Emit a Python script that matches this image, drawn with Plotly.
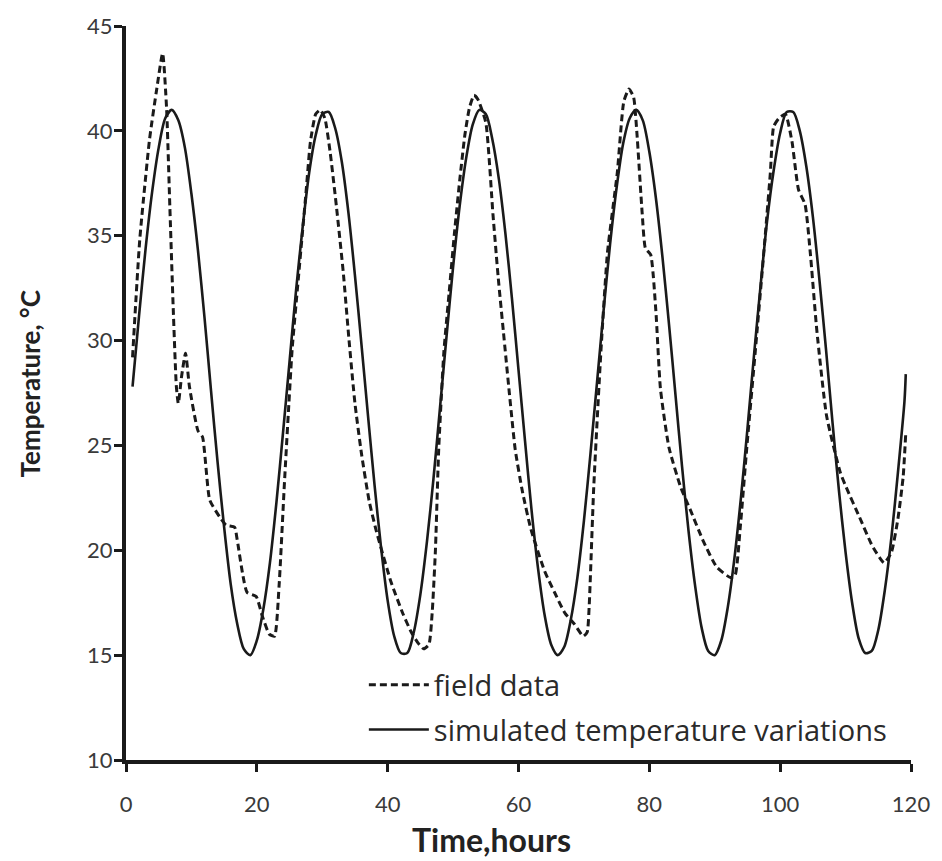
import plotly.graph_objects as go

# Simulated temperature (hourly)
sim_hours = [1, 2, 3, 4, 5, 6, 7, 8, 9, 10, 11, 12, 13, 14, 15, 16, 17, 18, 19, 20,
             21, 22, 23, 24, 25, 26, 27, 28, 29, 30, 31, 32, 33, 34, 35, 36, 37, 38, 39, 40,
             41, 42, 43, 44, 45, 46, 47, 48, 49, 50, 51, 52, 53, 54, 55, 56, 57, 58, 59, 60,
             61, 62, 63, 64, 65, 66, 67, 68, 69, 70, 71, 72, 73, 74, 75, 76, 77, 78, 79, 80,
             81, 82, 83, 84, 85, 86, 87, 88, 89, 90, 91, 92, 93, 94, 95, 96, 97, 98, 99, 100,
             101, 102, 103, 104, 105, 106, 107, 108, 109, 110, 111, 112, 113, 114, 115, 116,
             117, 118, 119, 119.2]
sim_temp = [27.8, 31.2, 34.4, 37.1, 39.2, 40.6, 41.0, 40.5, 39.2, 37.0,
            34.3, 31.1, 27.6, 24.2, 21.1, 18.4, 16.5, 15.3, 15.0, 15.7,
            17.2, 19.4, 22.3, 25.6, 29.0, 32.4, 35.4, 38.0, 39.8, 40.8,
            40.9, 40.1, 38.5, 36.1, 33.1, 29.8, 26.4, 23.1, 20.1, 17.6,
            15.9, 15.1, 15.1, 16.1, 17.9, 20.4, 23.4, 26.8, 30.2, 33.5,
            36.4, 38.7, 40.3, 41.0, 40.8, 39.6, 37.7, 35.1, 32.0, 28.6,
            25.2, 21.9, 19.1, 16.9, 15.5, 15.0, 15.4, 16.7, 18.7, 21.4,
            24.6, 28.0, 31.4, 34.6, 37.3, 39.4, 40.6, 41.0, 40.5, 39.0,
            36.8, 34.0, 30.8, 27.4, 24.0, 20.9, 18.3, 16.3, 15.2, 15.0,
            15.7, 17.3, 19.6, 22.5, 25.8, 29.3, 32.6, 35.7, 38.1, 39.9,
            40.9, 40.9, 40.0, 38.3, 35.9, 32.9, 29.6, 26.1, 22.8, 19.9,
            17.5, 15.8, 15.1, 15.2, 16.2, 18.1, 20.6, 23.7, 27.1, 28.4]

# Field measurements
field_hours = [1.0, 2.1, 3.6, 4.7, 5.6, 6.2, 6.7, 7.2, 7.7, 8.0, 8.5, 9.1, 9.7, 11.0,
               11.7, 12.8, 14.3, 15.3, 16.6, 17.0, 18.5, 19.9, 20.8, 21.9, 22.7, 23.4,
               24.2, 24.9, 25.4, 26.5, 27.5, 28.2, 29.0, 29.7, 30.4, 31.2, 32.2, 33.2,
               34.1, 35.0, 36.0, 37.2, 38.2, 38.9, 40.5, 42.3, 43.6, 44.6, 45.5, 46.3,
               46.8, 47.3, 47.8, 48.6, 49.4, 50.2, 51.0, 51.8, 52.5, 53.2, 53.8, 55.0,
               56.1, 56.9, 57.7, 58.6, 59.5, 60.6, 61.9, 64.0, 65.5, 67.1, 68.5, 69.9,
               70.5, 70.8, 71.5, 72.6, 73.6, 75.1, 76.1, 76.9, 77.6, 78.1, 78.9, 79.4,
               80.2, 81.0, 81.7, 83.0, 84.8, 86.3, 88.3, 90.3, 92.4, 93.1, 93.9, 94.9,
               96.2, 97.5, 98.5, 99.0, 99.8, 100.8, 101.8, 102.8, 103.8, 104.6, 105.6,
               107.1, 109.2, 110.1, 112.1, 114.1, 115.9, 117.0, 118.0, 118.8, 119.2]
field_temp = [29.2, 34.8, 39.6, 42.0, 43.7, 41.1, 36.4, 31.7, 27.8, 27.0, 28.3, 29.4, 27.8, 25.7,
              25.4, 22.4, 21.6, 21.2, 21.1, 20.5, 18.0, 17.8, 16.9, 16.0, 15.9, 18.3,
              23.1, 27.0, 29.6, 33.5, 37.0, 39.5, 40.8, 41.0, 40.6, 39.0, 36.3, 33.3,
              30.0, 27.0, 24.6, 22.3, 21.0, 20.2, 18.5, 17.0, 16.1, 15.6, 15.3, 15.5,
              17.0, 20.0, 24.8, 29.5, 32.3, 35.1, 37.6, 39.8, 41.1, 41.7, 41.5, 40.4,
              36.0, 33.0, 30.4, 27.5, 24.8, 22.8, 21.0, 19.0, 18.0, 17.0, 16.5, 15.9,
              16.1, 17.3, 23.0, 29.5, 34.2, 38.0, 41.4, 42.0, 41.6, 39.9, 36.1, 34.4,
              34.1, 31.4, 27.7, 24.9, 23.0, 21.9, 20.4, 19.2, 18.7, 18.8, 21.1, 24.9,
              29.5, 34.2, 38.0, 40.2, 40.6, 40.8, 39.5, 37.2, 36.5, 34.2, 30.5,
              26.4, 23.7, 23.0, 21.6, 20.2, 19.4, 19.9, 21.5, 23.5, 25.6]

x_ticks = [0, 20, 40, 60, 80, 100, 120]
y_ticks = [10, 15, 20, 25, 30, 35, 40, 45]

INK = "#1a1a1a"
TICK_FONT = "Lato, sans-serif"
LEGEND_FONT = "Open Sans, sans-serif"

fig = go.Figure()
fig.add_trace(go.Scatter(
    x=field_hours, y=field_temp, mode="lines", name="field data",
    legendgroup="field",
    line=dict(color=INK, width=3, dash="7px,4px", shape="spline", smoothing=0.5),
))
fig.add_trace(go.Scatter(
    x=sim_hours, y=sim_temp, mode="lines", name="simulated temperature variations",
    legendgroup="sim",
    line=dict(color=INK, width=2.6, shape="spline", smoothing=0.8),
))

fig.update_layout(
    width=942, height=861,
    margin=dict(l=126, r=27, t=18, b=101),
    paper_bgcolor="white", plot_bgcolor="white",
    font=dict(family=TICK_FONT, size=22, color="#3a3a3a"),
    showlegend=True,
    legend=dict(
        x=0.303, y=0.137, xanchor="left", yanchor="top",
        bgcolor="rgba(0,0,0,0)", borderwidth=0,
        font=dict(family=LEGEND_FONT, size=29, color="#2a2a2a"),
        tracegroupgap=4, itemwidth=60,
    ),
    xaxis=dict(
        range=[0, 120], tickvals=x_ticks, ticktext=[str(v) for v in x_ticks],
        showgrid=False, zeroline=False, showline=True, linecolor=INK, linewidth=4,
        ticks="outside", ticklen=8, tickwidth=3, tickcolor=INK,
        ticklabelstandoff=14,
        tickfont=dict(family=TICK_FONT, size=22, color="#3a3a3a"),
    ),
    yaxis=dict(
        range=[10, 45], tickvals=y_ticks, ticktext=[str(v) for v in y_ticks],
        showgrid=False, zeroline=False, showline=True, linecolor=INK, linewidth=4,
        ticks="outside", ticklen=8, tickwidth=3, tickcolor=INK,
        ticklabelstandoff=-3,
        tickfont=dict(family=TICK_FONT, size=22, color="#3a3a3a"),
    ),
    annotations=[
        dict(text="<b>Temperature, °C</b>", xref="paper", yref="paper",
             x=-0.122, y=0.512, xanchor="center", yanchor="middle",
             textangle=-90, showarrow=False,
             font=dict(family=TICK_FONT, size=26, color="#222222")),
        dict(text="<b>Time,hours</b>", xref="paper", yref="paper",
             x=0.466, y=-0.108, xanchor="center", yanchor="middle",
             showarrow=False,
             font=dict(family=TICK_FONT, size=32, color="#222222")),
    ],
)

fig.write_html("out.html")
